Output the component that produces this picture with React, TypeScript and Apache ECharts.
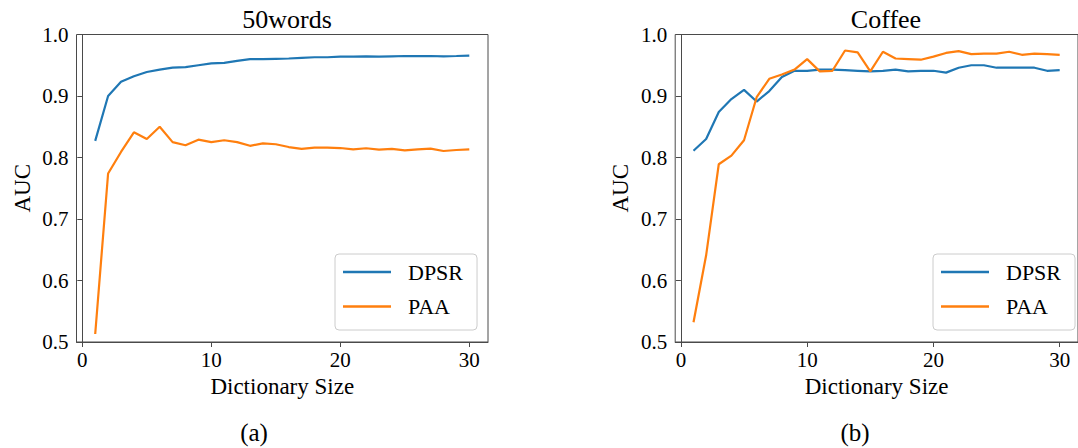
import React, { useEffect, useRef } from "react";
import * as echarts from "echarts";

const dictSize = [1,2,3,4,5,6,7,8,9,10,11,12,13,14,15,16,17,18,19,20,21,22,23,24,25,26,27,28,29,30];

const words50DPSR = [0.827,0.900,0.923,0.932,0.939,0.943,0.946,0.947,0.950,0.953,0.954,0.957,0.960,0.960,0.9605,0.961,0.962,0.963,0.963,0.964,0.964,0.9645,0.964,0.9645,0.965,0.965,0.965,0.9645,0.965,0.9656];
const words50PAA = [0.513,0.774,0.809,0.841,0.830,0.850,0.825,0.820,0.829,0.825,0.828,0.825,0.819,0.823,0.8215,0.817,0.814,0.816,0.816,0.8154,0.8133,0.815,0.8127,0.814,0.8117,0.8133,0.8143,0.8106,0.8122,0.8133];

const coffeeDPSR = [0.811,0.830,0.874,0.895,0.910,0.891,0.908,0.931,0.941,0.941,0.943,0.943,0.942,0.941,0.940,0.941,0.943,0.940,0.941,0.941,0.938,0.946,0.950,0.950,0.946,0.946,0.946,0.946,0.941,0.942];
const coffeePAA = [0.532,0.641,0.789,0.803,0.828,0.898,0.928,0.935,0.943,0.960,0.940,0.941,0.974,0.971,0.940,0.972,0.961,0.960,0.959,0.964,0.970,0.973,0.968,0.969,0.969,0.972,0.967,0.969,0.968,0.967];

const xTicks = [0, 10, 20, 30];
const titles = ["50words", "Coffee"];
const captions = ["(a)", "(b)"];
const seriesNames = ["DPSR", "PAA"];

const FONT = "Liberation Serif";
const AX = "#4a4a4a";
const BLUE = "#1f77b4";
const ORANGE = "#ff7f0e";

export default function App() {
  const ref = useRef<HTMLDivElement>(null);
  useEffect(() => {
    if (!ref.current) return;
    const chart = echarts.init(ref.current, undefined, { renderer: "svg" });
    const grids = [
      { left: 76.5, top: 34.5, width: 411.5, height: 307.5 },
      { left: 675.2, top: 34.5, width: 411.5, height: 307.5 },
    ];
    const xAxis = grids.map((_, i) => ({
      type: "value",
      gridIndex: i,
      min: -0.45,
      max: 31.45,
      name: "Dictionary Size",
      nameLocation: "middle",
      nameGap: 31,
      nameTextStyle: { fontFamily: FONT, fontSize: 23, color: "#000" },
      axisLine: { show: true, lineStyle: { color: AX, width: 1 } },
      axisTick: { show: true, length: 5, lineStyle: { color: AX }, customValues: xTicks },
      axisLabel: { fontFamily: FONT, fontSize: 21, color: "#000", margin: 7, customValues: xTicks },
      splitLine: { show: false },
    }));
    const yAxis = grids.map((_, i) => ({
      type: "value",
      gridIndex: i,
      min: 0.5,
      max: 1.0,
      interval: 0.1,
      name: "AUC",
      nameLocation: "middle",
      nameGap: 43,
      nameTextStyle: { fontFamily: FONT, fontSize: 23, color: "#000" },
      axisLine: { show: true, lineStyle: { color: AX, width: 1 } },
      axisTick: { show: true, length: 5, lineStyle: { color: AX } },
      axisLabel: {
        fontFamily: FONT,
        fontSize: 21,
        color: "#000",
        margin: 8,
        formatter: (v: number) => v.toFixed(1),
      },
      splitLine: { show: false },
    }));
    const mk = (name: string, data: number[], idx: number, color: string) => ({
      type: "line",
      name,
      xAxisIndex: idx,
      yAxisIndex: idx,
      data: dictSize.map((x, k) => [x, data[k]]),
      symbol: "none",
      lineStyle: { color, width: 2.2 },
      itemStyle: { color },
    });
    const legendBase = {
      orient: "vertical",
      top: 254,
      selectedMode: false,
      icon: "rect",
      itemWidth: 48,
      itemHeight: 2.5,
      itemGap: 12.5,
      padding: [7, 14, 12.5, 8],
      backgroundColor: "rgba(255,255,255,0.8)",
      borderColor: "#cccccc",
      borderWidth: 1,
      borderRadius: 4,
      textStyle: { fontFamily: FONT, fontSize: 22, color: "#000", lineHeight: 22, padding: [0, 0, 0, 12] },
      data: seriesNames,
    };
    chart.setOption({
      animation: false,
      backgroundColor: "#fff",
      textStyle: { fontFamily: FONT },
      title: [
        { text: titles[0], left: 282, top: 1, textAlign: "center", textStyle: { fontFamily: FONT, fontSize: 26, fontWeight: "normal", color: "#000" } },
        { text: titles[1], left: 881, top: 1, textAlign: "center", textStyle: { fontFamily: FONT, fontSize: 26, fontWeight: "normal", color: "#000" } },
      ],
      legend: [
        { ...legendBase, left: 335 },
        { ...legendBase, left: 933 },
      ],
      grid: grids.map((g) => ({ ...g, show: true, borderColor: AX, borderWidth: 1, backgroundColor: "transparent" })),
      xAxis,
      yAxis,
      series: [
        mk(seriesNames[0], words50DPSR, 0, BLUE),
        mk(seriesNames[1], words50PAA, 0, ORANGE),
        mk(seriesNames[0], coffeeDPSR, 1, BLUE),
        mk(seriesNames[1], coffeePAA, 1, ORANGE),
      ],
      graphic: [
        { type: "text", x: 254, y: 432, style: { text: captions[0], fontFamily: FONT, fontSize: 25, fill: "#000", textAlign: "center", textVerticalAlign: "middle" } },
        { type: "text", x: 855, y: 432, style: { text: captions[1], fontFamily: FONT, fontSize: 25, fill: "#000", textAlign: "center", textVerticalAlign: "middle" } },
      ],
    });
    return () => chart.dispose();
  }, []);
  return <div ref={ref} style={{ position: "absolute", left: 0, top: 0, width: 1078, height: 448 }} />;
}
